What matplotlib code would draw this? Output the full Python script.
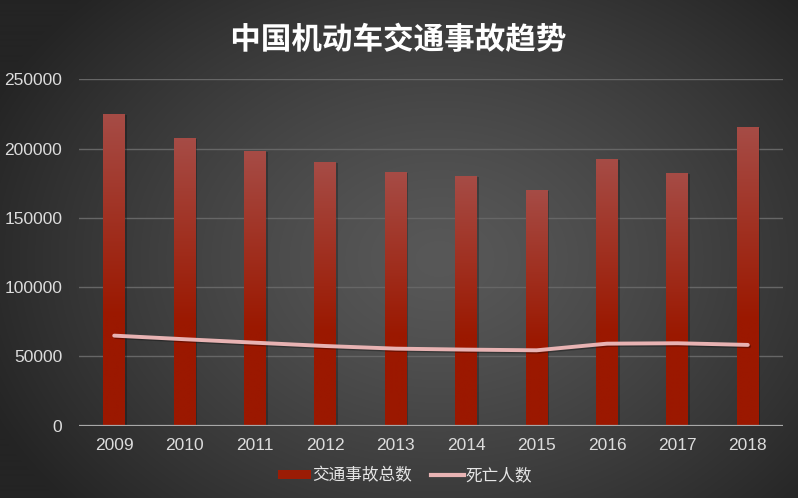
import numpy as np
import matplotlib
matplotlib.use("Agg")
import matplotlib.pyplot as plt
from matplotlib.colors import LinearSegmentedColormap
import matplotlib.patheffects as pe
from matplotlib.patches import Patch
from matplotlib.lines import Line2D

years = ["2009", "2010", "2011", "2012", "2013", "2014", "2015", "2016", "2017", "2018"]
accidents = [225000, 207500, 198300, 190600, 183400, 180300, 170200, 192600, 182400, 215900]
deaths = [64900, 62300, 59800, 57400, 55500, 54800, 54300, 59100, 59400, 58200]
yticks = [0, 50000, 100000, 150000, 200000, 250000]

plt.rcParams['font.family'] = ['Liberation Sans', 'Noto Sans CJK SC', 'DejaVu Sans']

W, H = 798, 498
fig = plt.figure(figsize=(W / 100, H / 100), dpi=100)

# radial background
bg = fig.add_axes([0, 0, 1, 1], zorder=-10)
yy, xx = np.mgrid[0:H, 0:W]
cx, cy = 0.55 * W, 0.52 * H
r = np.sqrt(((xx - cx) / (0.62 * W)) ** 2 + ((yy - cy) / (0.75 * H)) ** 2)
r = np.clip(r, 0, 1)
inner = np.array([88, 88, 88]) / 255
outer = np.array([36, 36, 36]) / 255
img = inner[None, None, :] * (1 - r[..., None] ** 1.3) + outer[None, None, :] * (r[..., None] ** 1.3)
bg.imshow(img, extent=(0, 1, 0, 1), aspect='auto', origin='upper')
bg.set_axis_off()

ax = fig.add_axes([79 / W, 1 - 425.5 / H, (783 - 79) / W, (425.5 - 79.3) / H])
ax.set_facecolor('none')
x = np.arange(len(years))
bw = 0.31

for yv in yticks[1:]:
    ax.axhline(yv, color='#666666', lw=1.0, zorder=1)

top_c = np.array([166, 76, 70]) / 255
bot_c = np.array([155, 24, 0]) / 255
gvals = np.linspace(1, 0, 256)[:, None]
gvals = np.where(gvals > 0.35, (gvals - 0.35) / 0.65, 0)
cmap2 = LinearSegmentedColormap.from_list('g2', [bot_c, top_c])

bars = ax.bar(x, accidents, width=bw, color='none', edgecolor='none', zorder=3)
for xi, h, b in zip(x, accidents, bars):
    ax.bar(xi + 0.025, h, width=bw, bottom=-800, color='black', alpha=0.25, zorder=2, lw=0)
    im = ax.imshow(gvals, cmap=cmap2, vmin=0, vmax=1, aspect='auto',
                   extent=(xi - bw / 2, xi + bw / 2, 0, h), zorder=3, interpolation='bilinear')
    im.set_clip_path(b)
ax.set_xlim(-0.5, len(years) - 0.5)
ax.set_ylim(0, 250000)

ax.plot(x, deaths, color='#e8b3b3', lw=2.8, solid_capstyle='round', zorder=5,
        path_effects=[pe.SimpleLineShadow(offset=(1, -1), shadow_color='black', alpha=0.3), pe.Normal()],
        label='死亡人数')

ax.axhline(0, color='#a8a8a8', lw=1.6, zorder=4)

for s in ax.spines.values():
    s.set_visible(False)
ax.set_xticks(x)
ax.set_xticklabels(years)
ax.set_yticks(yticks)
ax.set_yticklabels([str(v) for v in yticks])
ax.tick_params(length=0, colors='#dcdcdc', labelsize=12.5)
ax.tick_params(axis='x', pad=9)
ax.tick_params(axis='y', pad=12)

handles = [Patch(facecolor='#9b1c05', edgecolor='none', label='交通事故总数'),
           Line2D([0], [0], color='#e8b3b3', lw=3, label='死亡人数')]
leg = fig.legend(handles=handles, loc='center', bbox_to_anchor=(405 / W, 1 - 476 / H), ncol=2,
                 frameon=False, prop={'family': ['Noto Sans CJK SC', 'DejaVu Sans'], 'size': 12},
                 labelcolor='#e6e6e6', handlelength=2.0, handleheight=0.5, handletextpad=0.1,
                 columnspacing=1.1)

fig.text(398 / W, 1 - 40 / H, '中国机动车交通事故趋势', ha='center', va='center', color='white',
         fontsize=22, fontweight='bold', family=['Noto Sans CJK SC', 'DejaVu Sans'],
         path_effects=[pe.SimpleLineShadow(offset=(1.5, -1.5), alpha=0.5), pe.Normal()])

fig.savefig('out.png', dpi=100)
